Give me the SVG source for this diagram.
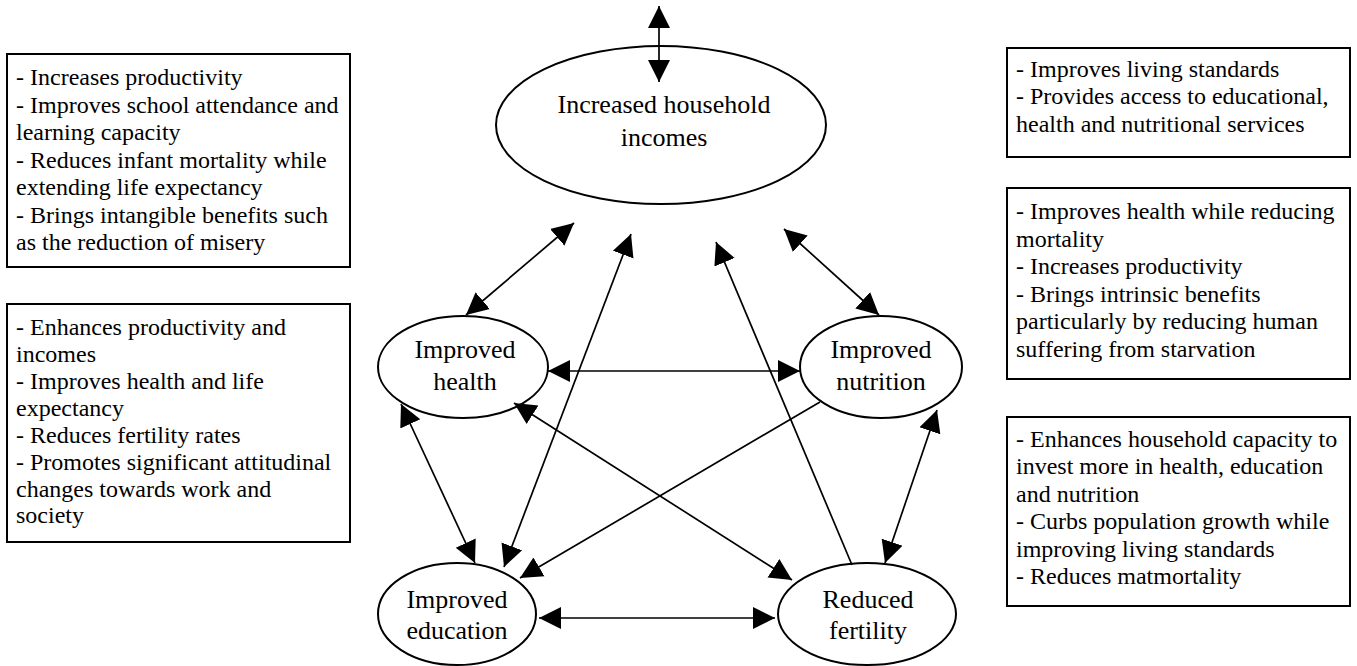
<svg xmlns="http://www.w3.org/2000/svg" width="1357" height="666" viewBox="0 0 1357 666">
<style>
.bg{fill:#fff}
.node{fill:#fff;stroke:#000;stroke-width:2}
.box{fill:#fff;stroke:#000;stroke-width:2}
.lbl{font-family:"Liberation Serif","Times New Roman",serif;font-size:26px;fill:#000;text-anchor:middle}
.txt{font-family:"Liberation Serif","Times New Roman",serif;font-size:24px;fill:#000}
.c{stroke:#000;stroke-width:1.7;fill:none}
.bi{marker-start:url(#ah);marker-end:url(#ah)}
.one{marker-end:url(#ah)}
</style>
<defs>
<marker id="ah" markerUnits="userSpaceOnUse" markerWidth="24" markerHeight="24" refX="22" refY="11" orient="auto-start-reverse" viewBox="0 0 24 22">
<path d="M0,0 L22,11 L0,22 z" fill="#000"/>
</marker>
</defs>
<rect class="bg" x="0" y="0" width="1357" height="666"/>

<g id="box-left-1">
<rect class="box" x="7" y="54" width="343" height="213"/>
<text class="txt" x="16" y="85"><tspan x="16" y="85">- Increases productivity</tspan><tspan x="16" y="113">- Improves school attendance and</tspan><tspan x="16" y="140">learning capacity</tspan><tspan x="16" y="168">- Reduces infant mortality while</tspan><tspan x="16" y="195">extending life expectancy</tspan><tspan x="16" y="223">- Brings intangible benefits such</tspan><tspan x="16" y="250">as the reduction of misery</tspan></text>
</g>

<g id="box-left-2">
<rect class="box" x="7" y="304" width="343" height="238"/>
<text class="txt" x="16" y="335"><tspan x="16" y="335">- Enhances productivity and</tspan><tspan x="16" y="362">incomes</tspan><tspan x="16" y="389">- Improves health and life</tspan><tspan x="16" y="416">expectancy</tspan><tspan x="16" y="443">- Reduces fertility rates</tspan><tspan x="16" y="470">- Promotes significant attitudinal</tspan><tspan x="16" y="497">changes towards work and</tspan><tspan x="16" y="523">society</tspan></text>
</g>

<g id="box-right-1">
<rect class="box" x="1007" y="48" width="343" height="109"/>
<text class="txt" x="1016" y="77"><tspan x="1016" y="77">- Improves living standards</tspan><tspan x="1016" y="104">- Provides access to educational,</tspan><tspan x="1016" y="132">health and nutritional services</tspan></text>
</g>

<g id="box-right-2">
<rect class="box" x="1007" y="188" width="343" height="191"/>
<text class="txt" x="1016" y="219"><tspan x="1016" y="219">- Improves health while reducing</tspan><tspan x="1016" y="247">mortality</tspan><tspan x="1016" y="274">- Increases productivity</tspan><tspan x="1016" y="302">- Brings intrinsic benefits</tspan><tspan x="1016" y="329">particularly by reducing human</tspan><tspan x="1016" y="357">suffering from starvation</tspan></text>
</g>

<g id="box-right-3">
<rect class="box" x="1007" y="417" width="343" height="189"/>
<text class="txt" x="1016" y="447"><tspan x="1016" y="447">- Enhances household capacity to</tspan><tspan x="1016" y="474">invest more in health, education</tspan><tspan x="1016" y="502">and nutrition</tspan><tspan x="1016" y="529">- Curbs population growth while</tspan><tspan x="1016" y="557">improving living standards</tspan><tspan x="1016" y="584">- Reduces matmortality</tspan></text>
</g>

<g id="node-income">
<ellipse class="node" cx="661" cy="125" rx="165" ry="79"/>
<text class="lbl" x="664" y="113">Increased household</text>
<text class="lbl" x="664" y="146">incomes</text>
</g>

<g id="node-health">
<ellipse class="node" cx="463" cy="367" rx="85" ry="51"/>
<text class="lbl" x="465" y="358">Improved</text>
<text class="lbl" x="465" y="390">health</text>
</g>

<g id="node-nutrition">
<ellipse class="node" cx="881" cy="367" rx="81" ry="51"/>
<text class="lbl" x="881" y="358">Improved</text>
<text class="lbl" x="881" y="390">nutrition</text>
</g>

<g id="node-education">
<ellipse class="node" cx="457" cy="614" rx="79" ry="51"/>
<text class="lbl" x="457" y="608">Improved</text>
<text class="lbl" x="457" y="639">education</text>
</g>

<g id="node-fertility">
<ellipse class="node" cx="867" cy="614" rx="89" ry="51"/>
<text class="lbl" x="868" y="608">Reduced</text>
<text class="lbl" x="868" y="639">fertility</text>
</g>

<g id="connectors">
<line class="c bi" x1="659" y1="6" x2="659" y2="82"/>
<line class="c bi" x1="574" y1="223" x2="466" y2="315"/>
<line class="c bi" x1="631" y1="234" x2="504" y2="567"/>
<line class="c one" x1="852" y1="565" x2="716" y2="242"/>
<line class="c bi" x1="784" y1="229" x2="879" y2="315"/>
<line class="c bi" x1="548" y1="371" x2="800" y2="371"/>
<line class="c bi" x1="401" y1="404" x2="475" y2="563"/>
<line class="c bi" x1="514" y1="403" x2="792" y2="580"/>
<line class="c one" x1="820" y1="402" x2="520" y2="578"/>
<line class="c bi" x1="937" y1="410" x2="885" y2="563"/>
<line class="c bi" x1="539" y1="618" x2="775" y2="618"/>
</g>
</svg>
